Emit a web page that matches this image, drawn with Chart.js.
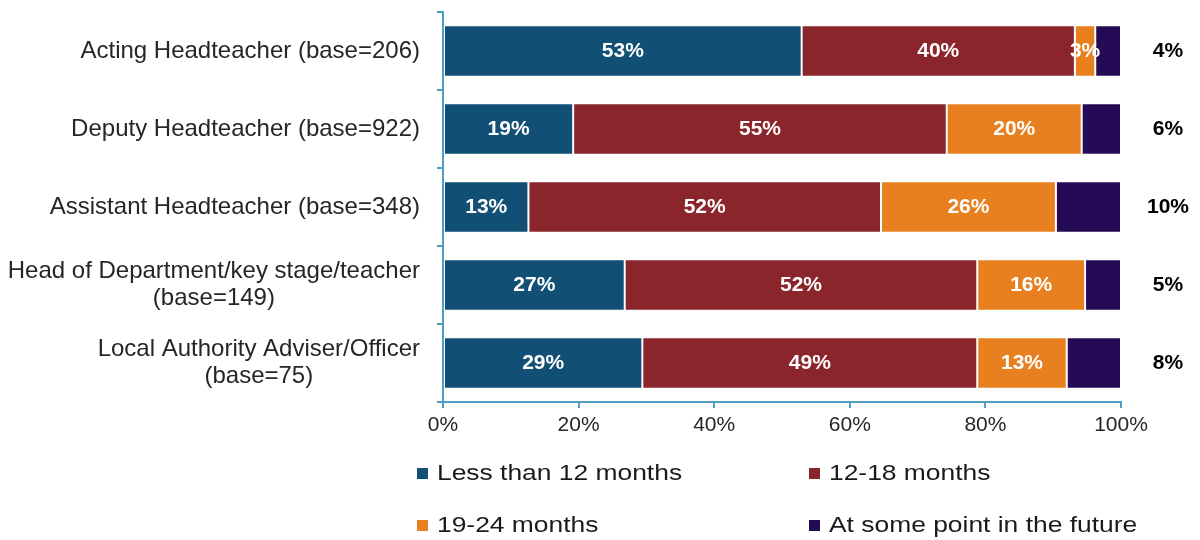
<!DOCTYPE html>
<html>
<head>
<meta charset="utf-8">
<script src="https://cdn.jsdelivr.net/npm/chart.js@4.4.1/dist/chart.umd.min.js"></script>
<style>
  body { margin: 0; background: #fff; }
  #wrap { width: 1200px; height: 540px; position: relative; }
</style>
</head>
<body>
<div id="wrap"><canvas id="chart"></canvas></div>
<script>
// categories (multi-line labels as arrays)
const roles = [
    ['Acting Headteacher (base=206)'],
    ['Deputy Headteacher (base=922)'],
    ['Assistant Headteacher (base=348)'],
    ['Head of Department/key stage/teacher', '(base=149)'],
    ['Local Authority Adviser/Officer', '(base=75)']
];

// series values (percent of each row)
const lessThan12 = [52.9, 19.2, 12.6, 26.8, 29.4];
const months12to18 = [40.3, 55.1, 52.0, 52.0, 49.4];
const months19to24 = [3.0, 19.9, 25.8, 15.9, 13.2];
const someFuture = [3.8, 5.8, 9.6, 5.3, 8.0];

const seriesNames = ['Less than 12 months', '12-18 months', '19-24 months', 'At some point in the future'];
const seriesColors = ['#114f75', '#8b252c', '#e8801f', '#250b55'];

// x axis ticks
const xTicks = [0, 20, 40, 60, 80, 100];

const FONT = '"Liberation Sans", Arial, sans-serif';
const axisColor = '#4e9dc2';

// category labels: block right-aligned, lines centered inside the block
const categoryLabels = {
    id: 'categoryLabels',
    afterDraw(chart) {
        const ctx = chart.ctx;
        const yScale = chart.scales.y;
        ctx.save();
        ctx.font = '24px ' + FONT;
        ctx.fillStyle = '#262626';
        ctx.textAlign = 'center';
        ctx.textBaseline = 'middle';
        const right = yScale.right - 23;
        const lineH = 27;
        roles.forEach((lines, i) => {
            const y = yScale.getPixelForTick(i);
            let w = 0;
            lines.forEach(l => { w = Math.max(w, ctx.measureText(l).width); });
            const cx = right - w / 2;
            const top = y - (lines.length - 1) * lineH / 2;
            lines.forEach((l, j) => ctx.fillText(l, cx, top + j * lineH));
        });
        ctx.restore();
    }
};

// value labels on bars; last series sits outside, right of the plot
const valueLabels = {
    id: 'valueLabels',
    afterDatasetsDraw(chart) {
        const ctx = chart.ctx;
        ctx.save();
        ctx.font = 'bold 21px ' + FONT;
        ctx.textAlign = 'center';
        ctx.textBaseline = 'middle';
        chart.data.datasets.forEach((ds, di) => {
            const meta = chart.getDatasetMeta(di);
            meta.data.forEach((bar, i) => {
                const txt = Math.round(ds.data[i]) + '%';
                if (di === 3) {
                    ctx.fillStyle = '#000';
                    ctx.fillText(txt, chart.chartArea.right + 47, bar.y);
                } else {
                    ctx.fillStyle = '#fff';
                    ctx.fillText(txt, (bar.x + bar.base) / 2, bar.y);
                }
            });
        });
        ctx.restore();
    }
};

// two-column legend under the axis
const gridLegend = {
    id: 'gridLegend',
    afterDraw(chart) {
        const ctx = chart.ctx;
        const cols = [417, 809];
        const rows = [473, 525];
        ctx.save();
        ctx.textBaseline = 'middle';
        ctx.textAlign = 'left';
        chart.data.datasets.forEach((ds, i) => {
            const x = cols[i % 2];
            const y = rows[Math.floor(i / 2)];
            ctx.fillStyle = ds.backgroundColor;
            ctx.fillRect(x, y - 5, 11, 11);
            ctx.save();
            ctx.translate(x + 20, y + 1);
            ctx.scale(1.2, 1);
            ctx.font = '22px ' + FONT;
            ctx.fillStyle = '#1a1a1a';
            ctx.fillText(ds.label, 0, 0);
            ctx.restore();
        });
        ctx.restore();
    }
};

const allSeries = [lessThan12, months12to18, months19to24, someFuture];

new Chart(document.getElementById('chart'), {
    type: 'bar',
    data: {
        labels: roles,
        datasets: allSeries.map((vals, i) => ({
            label: seriesNames[i],
            data: vals,
            backgroundColor: seriesColors[i],
            borderColor: '#ffffff',
            borderWidth: 1,
            borderSkipped: false,
            barPercentage: 0.66,
            categoryPercentage: 1
        }))
    },
    options: {
        indexAxis: 'y',
        responsive: true,
        maintainAspectRatio: false,
        animation: false,
        layout: { padding: { left: 0, right: 79, top: 12, bottom: 98 } },
        plugins: {
            legend: { display: false },
            tooltip: { enabled: false }
        },
        scales: {
            x: {
                stacked: true,
                min: 0,
                max: 100,
                afterBuildTicks: (scale) => { scale.ticks = xTicks.map(v => ({ value: v })); },
                afterFit: (scale) => { scale.height = 40; },
                ticks: {
                    callback: (v) => v + '%',
                    color: '#262626',
                    font: { family: FONT, size: 21 },
                    padding: 5
                },
                grid: { drawOnChartArea: false, color: axisColor, tickLength: 6, lineWidth: 2 },
                border: { color: axisColor, width: 2 }
            },
            y: {
                stacked: true,
                afterFit: (scale) => { scale.width = 443; },
                ticks: { display: false },
                grid: { drawOnChartArea: false, offset: true, color: axisColor, tickLength: 6, lineWidth: 2 },
                border: { color: axisColor, width: 2 }
            }
        }
    },
    plugins: [categoryLabels, valueLabels, gridLegend]
});
</script>
</body>
</html>
